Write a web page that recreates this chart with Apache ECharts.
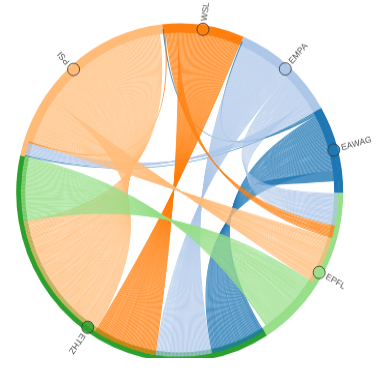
<!DOCTYPE html>
<html><head><meta charset="utf-8">
<style>
html,body{margin:0;padding:0;background:#fff;overflow:hidden}
#c{width:378px;height:358px;transform:scaleY(1.035);transform-origin:0 0}
</style>
<script src="https://cdn.jsdelivr.net/npm/echarts@6/dist/echarts.min.js"></script>
</head><body><div id="c"></div>
<script>
// groups, clockwise from the top
const groups = ['WSL', 'EMPA', 'EAWAG', 'EPFL', 'ETHZ', 'PSI'];
const groupColors = ['#ff7f0e', '#aec7e8', '#1f77b4', '#98df8a', '#2ca02c', '#ffbb78'];
const groupSizes = [58.4, 74, 60.4, 115.2, 269.8, 142.2];

// ribbons (the source gives the colour), in stacking order; each unit is drawn as one strand
const linkSources = ['EAWAG', 'EAWAG', 'EAWAG', 'EAWAG', 'EAWAG', 'EMPA', 'EMPA', 'EMPA', 'WSL', 'WSL', 'WSL', 'PSI', 'PSI', 'EPFL'];
const linkTargets = ['PSI', 'EMPA', 'WSL', 'ETHZ', 'EAWAG', 'ETHZ', 'EPFL', 'PSI', 'PSI', 'EPFL', 'ETHZ', 'EPFL', 'ETHZ', 'ETHZ'];
const linkValues  = [1, 1, 1, 41, 8, 41, 23, 9, 1, 9, 47, 34, 95, 46];

const START = 96.2; // angle where the first group (WSL) begins

// effective group totals (the library takes max(node value, sum of links))
const eff = groups.map((g, i) => {
  let s = 0;
  linkSources.forEach((src, k) => { if (src === g) s += linkValues[k]; if (linkTargets[k] === g) s += linkValues[k]; });
  return Math.max(s, groupSizes[i]);
});
const total = eff.reduce((a, b) => a + b, 0);
let acc = 0;
const markers = groups.map((g, i) => {
  const mid = acc + eff[i] / 2;
  acc += eff[i];
  const theta = mid / total * 360 - (START - 90); // clockwise from 12 o'clock
  return {
    name: g,
    value: [0.975, mid],
    itemStyle: { color: groupColors[i] },
    label: { rotate: 90 - theta }
  };
});

const links = [];
linkSources.forEach((s, k) => {
  const t = linkTargets[k];
  const n = s === t ? 1 : Math.max(1, Math.round(linkValues[k]));
  for (let i = 0; i < n; i++) links.push({ source: s, target: t, value: linkValues[k] / n });
});

const CX = 179.7, CY = 186.0, R = 163.5, R0 = 158.8, RIN = 154.5;
const chart = echarts.init(document.getElementById('c'));
chart.setOption({
  animation: false,
  polar: { center: [CX, CY], radius: R },
  angleAxis: { type: 'value', min: 0, max: total, startAngle: START, clockwise: true, show: false },
  radiusAxis: { type: 'value', min: 0, max: 1, show: false },
  series: [
    {
      // inner part of the group ring, partly covered by the ribbon ends
      type: 'pie',
      z: 1,
      silent: true,
      center: [CX, CY],
      radius: [RIN, R0 + 0.5],
      startAngle: START,
      clockwise: true,
      label: { show: false },
      labelLine: { show: false },
      emphasis: { disabled: true },
      itemStyle: { borderWidth: 0 },
      data: groups.map((g, i) => ({ name: g, value: eff[i], itemStyle: { color: groupColors[i] } }))
    },
    {
      type: 'chord',
      z: 2,
      center: [CX, CY],
      radius: [R0, R],
      startAngle: START,
      clockwise: true,
      padAngle: 0,
      minAngle: 0,
      itemStyle: { borderRadius: 0, borderWidth: 0, opacity: 1 },
      lineStyle: { color: 'source', opacity: 0.8, width: 0 },
      label: { show: false },
      emphasis: { disabled: true },
      data: groups.map((g, i) => ({ name: g, value: groupSizes[i], itemStyle: { color: groupColors[i] } })),
      links: links
    },
    {
      type: 'scatter',
      coordinateSystem: 'polar',
      z: 10,
      symbol: 'circle',
      symbolSize: 12,
      itemStyle: { borderColor: '#333', borderWidth: 1 },
      label: {
        show: true,
        position: 'inside',
        align: 'left',
        verticalAlign: 'middle',
        offset: [8, 0],
        formatter: '{b}',
        fontFamily: 'Liberation Sans, Arial, sans-serif',
        fontSize: 8.5,
        color: '#222'
      },
      data: markers
    }
  ]
});
</script>
</body></html>
